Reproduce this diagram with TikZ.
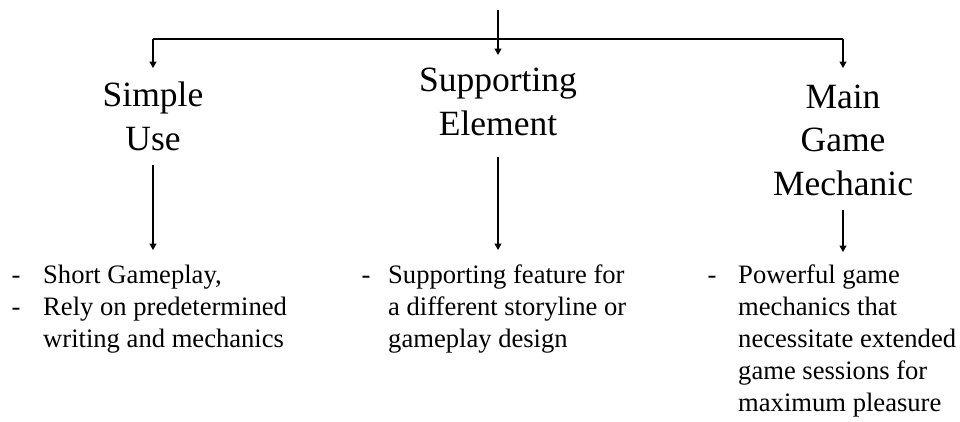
\documentclass[tikz,border=0pt]{standalone}
\usepackage{fontspec}
\setmainfont{Liberation Serif}
\usetikzlibrary{arrows.meta}
\begin{document}
\begin{tikzpicture}[x=1pt,y=-1pt,
  conn/.style={line width=1.3pt,black},
  arr/.style={conn,-{Triangle[length=6.5pt,width=7pt]}},
  title/.style={anchor=base,align=center,inner sep=0pt,font=\fontsize{35.5}{43.5}\selectfont},
  body/.style={anchor=base west,align=left,inner sep=0pt,font=\fontsize{26.6}{32}\selectfont},
  dashmark/.style={anchor=base,inner sep=0pt,font=\fontsize{26.6}{32}\selectfont}]
\useasboundingbox (0,0) rectangle (960,421);
% titles (anchor = baseline of last line)
\node[title] (simple)  at (153,150) {Simple\\Use};
\node[title] (support) at (498,135) {Supporting\\Element};
\node[title] (main)    at (843,195) {Main\\Game\\Mechanic};
% bodies (anchor = baseline of last line)
\node[dashmark] (dL) at (16,283) {-};
\node[dashmark] (dL2) at (16,315) {-};
\node[body] (bodyL) at (43,347) {Short Gameplay,\\Rely on predetermined\\writing and mechanics};
\node[dashmark] (dM) at (366,283) {-};
\node[body] (bodyM) at (388,347) {Supporting feature for\\a different storyline or\\gameplay design};
\node[dashmark] (dR) at (712,283) {-};
\node[body] (bodyR) at (738,411) {Powerful game\\mechanics that\\necessitate extended\\game sessions for\\maximum pleasure};
% top connectors
\coordinate (root) at (498,10);
\coordinate (barL) at (153,39);
\coordinate (barR) at (843,39);
\coordinate (tipL) at (153,68);
\coordinate (tipM) at (498,55);
\coordinate (tipR) at (843,68);
\draw[arr] (root) -- (tipM);
\draw[conn] (barL) -- (barR);
\draw[arr] (barL) -- (tipL);
\draw[arr] (barR) -- (tipR);
% lower connectors
\coordinate (sL) at (153,165);
\coordinate (eL) at (153,250);
\coordinate (sM) at (498,157);
\coordinate (eM) at (498,250);
\coordinate (sR) at (843,210);
\coordinate (eR) at (843,252);
\draw[arr] (sL) -- (eL);
\draw[arr] (sM) -- (eM);
\draw[arr] (sR) -- (eR);
\end{tikzpicture}
\end{document}
